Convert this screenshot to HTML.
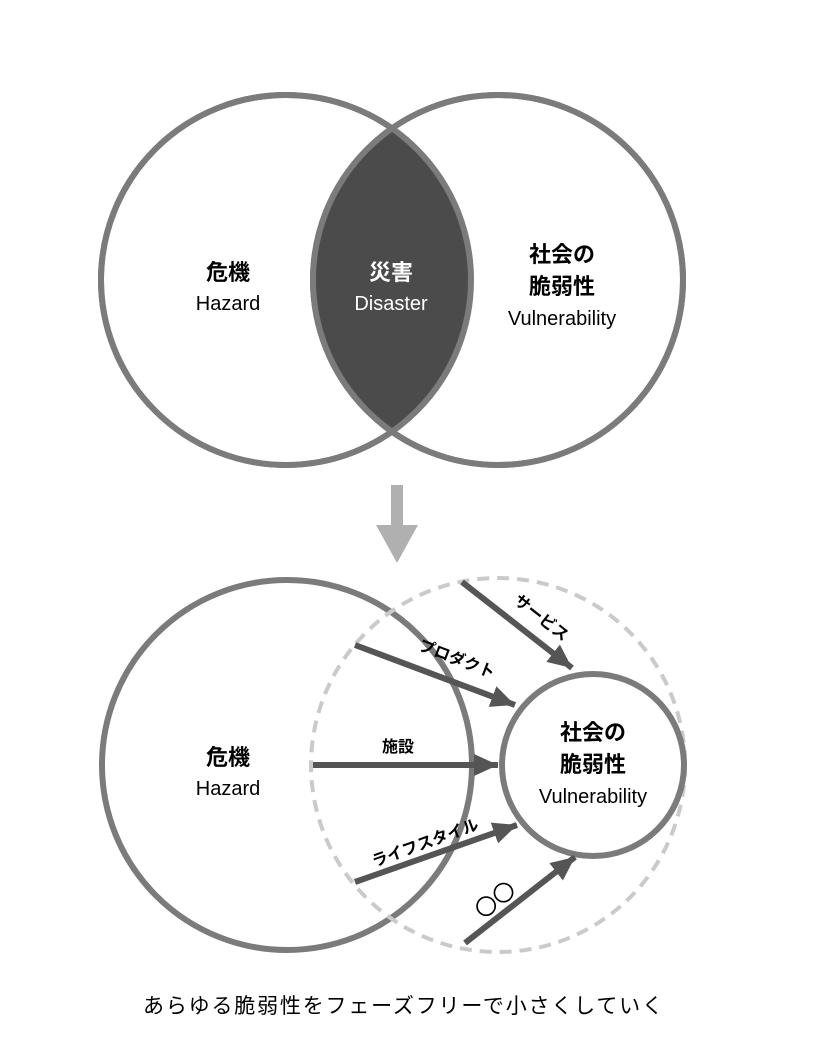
<!DOCTYPE html>
<html><head><meta charset="utf-8"><style>
body{margin:0;background:#fff}
svg text{font-family:"Liberation Sans","Noto Sans CJK JP",sans-serif}
</style></head><body>
<svg width="823" height="1049" viewBox="0 0 823 1049" xmlns="http://www.w3.org/2000/svg">
<defs>
<clipPath id="cl"><circle cx="286" cy="280" r="185"/></clipPath>
<marker id="ah" markerWidth="26" markerHeight="24" refX="24" refY="12" orient="auto" markerUnits="userSpaceOnUse"><path d="M0,1 L24,12 L0,23 Z" fill="#555"/></marker>
</defs>
<circle cx="286" cy="280" r="185" fill="#fff" stroke="#7b7b7b" stroke-width="6"/>
<circle cx="498" cy="280" r="185" fill="#fff" stroke="#7b7b7b" stroke-width="6"/>
<circle cx="498" cy="280" r="185" fill="#4b4b4b" clip-path="url(#cl)"/>
<circle cx="286" cy="280" r="185" fill="none" stroke="#7b7b7b" stroke-width="6"/>
<circle cx="498" cy="280" r="185" fill="none" stroke="#7b7b7b" stroke-width="6"/>
<g font-size="22" text-anchor="middle">
<text x="228" y="280" font-weight="bold">危機</text>
<text x="228" y="310" font-size="20">Hazard</text>
<text x="391" y="280" font-weight="bold" fill="#fff">災害</text>
<text x="391" y="310" font-size="20" fill="#fff">Disaster</text>
<text x="562" y="262" font-weight="bold">社会の</text>
<text x="562" y="294" font-weight="bold">脆弱性</text>
<text x="562" y="325" font-size="20">Vulnerability</text>
</g>
<rect x="391" y="485" width="12" height="46" fill="#b0b0b0"/>
<path d="M376,525 L418,525 L397,563 Z" fill="#b0b0b0"/>

<circle cx="287" cy="765" r="185" fill="none" stroke="#7b7b7b" stroke-width="6"/>
<circle cx="498" cy="765" r="187" fill="none" stroke="#cacaca" stroke-width="4" stroke-dasharray="12 8"/>
<circle cx="593" cy="765" r="91" fill="#fff" stroke="#7b7b7b" stroke-width="6"/>
<g stroke="#555" stroke-width="6" marker-end="url(#ah)">
<line x1="462" y1="582" x2="572" y2="668"/>
<line x1="355" y1="645" x2="515" y2="705"/>
<line x1="313" y1="765" x2="498" y2="765"/>
<line x1="355" y1="882" x2="517" y2="825"/>
<line x1="465" y1="943" x2="575" y2="857"/>
</g>
<g font-size="16" text-anchor="middle" font-weight="bold">
<text transform="translate(538,622) rotate(38)">サービス</text>
<text transform="translate(455,664) rotate(21)">プロダクト</text>
<text x="398" y="752">施設</text>
<text transform="translate(427,848) rotate(-20)">ライフスタイル</text>
<text transform="translate(500,906) rotate(-38)" font-size="22" font-weight="normal">〇〇</text>
</g>
<g font-size="22" text-anchor="middle">
<text x="228" y="765" font-weight="bold">危機</text>
<text x="228" y="795" font-size="20">Hazard</text>
<text x="593" y="740" font-weight="bold">社会の</text>
<text x="593" y="772" font-weight="bold">脆弱性</text>
<text x="593" y="803" font-size="20">Vulnerability</text>
</g>
<text x="403" y="1013" font-size="21" text-anchor="middle" textLength="520">あらゆる脆弱性をフェーズフリーで小さくしていく</text>
</svg>
</body></html>
